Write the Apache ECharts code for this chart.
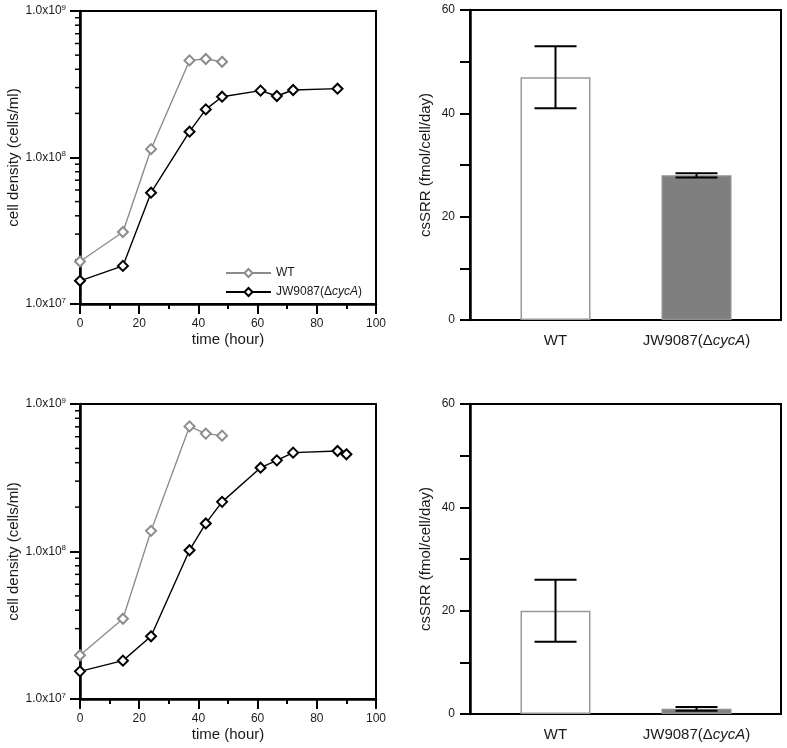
<!DOCTYPE html>
<html>
<head>
<meta charset="utf-8">
<script src="https://cdn.jsdelivr.net/npm/echarts@6/dist/echarts.min.js"></script>
<style>
  html, body { margin: 0; padding: 0; background: #fff; }
  #chart { width: 787px; height: 748px; }
</style>
</head>
<body>
<div id="chart"></div>
<script>
// ---- data: growth curves (top panel A, bottom panel B) ----
const wtTimeA = [0, 14.5, 24, 37, 42.5, 48];
const wtCellsA = [1.95e7, 3.1e7, 1.14e8, 4.6e8, 4.7e8, 4.5e8];
const jwTimeA = [0, 14.5, 24, 37, 42.5, 48, 61, 66.5, 72, 87];
const jwCellsA = [1.44e7, 1.82e7, 5.75e7, 1.5e8, 2.13e8, 2.6e8, 2.86e8, 2.63e8, 2.89e8, 2.95e8];

const wtTimeB = [0, 14.5, 24, 37, 42.5, 48];
const wtCellsB = [1.98e7, 3.5e7, 1.38e8, 7.05e8, 6.3e8, 6.1e8];
const jwTimeB = [0, 14.5, 24, 37, 42.5, 48, 61, 66.5, 72, 87, 90];
const jwCellsB = [1.54e7, 1.82e7, 2.66e7, 1.02e8, 1.55e8, 2.17e8, 3.7e8, 4.15e8, 4.68e8, 4.8e8, 4.56e8];

// ---- data: csSRR bars ----
const strains = ['WT', 'JW9087(ΔcycA)'];
const csSRRA = [47, 28];
const csSRRErrA = [6, 0.4];
const csSRRB = [20, 1.0];
const csSRRErrB = [6, 0.35];

// ---- axis ticks ----
const logMinorTicks = [2e7, 3e7, 4e7, 5e7, 6e7, 7e7, 8e7, 9e7, 2e8, 3e8, 4e8, 5e8, 6e8, 7e8, 8e8, 9e8];
const seriesNames = ['WT', 'JW9087(ΔcycA)'];

const FONT = '"Liberation Sans", Arial, Helvetica, sans-serif';
const TXT = '#1a1a1a';
const GRAY = '#8c8c8c';

const zip = (xs, ys) => xs.map((x, i) => [x, ys[i]]);
const italicName = s => s.replace('cycA', '{i|cycA}');

function lineGridAxes(gi) {
  const x = {
    type: 'value', gridIndex: gi, min: 0, max: 100, interval: 20,
    name: 'time (hour)', nameLocation: 'middle', nameGap: 36,
    nameTextStyle: { fontSize: 15, color: TXT, fontFamily: FONT, verticalAlign: 'middle' },
    axisLine: { lineStyle: { color: '#000', width: 2.5 } },
    axisTick: { inside: false, length: 10, lineStyle: { color: '#000', width: 2 } },
    minorTick: { show: true, splitNumber: 2, length: 5, lineStyle: { color: '#000', width: 2 } },
    axisLabel: { fontSize: 12, color: TXT, fontFamily: FONT, margin: 14 },
    splitLine: { show: false }
  };
  const y = {
    type: 'log', gridIndex: gi, min: 1e7, max: 1e9, logBase: 10,
    name: 'cell density (cells/ml)', nameLocation: 'middle', nameGap: 41,
    nameTextStyle: { fontSize: 15, color: TXT, fontFamily: FONT, verticalAlign: 'middle' },
    axisLine: { lineStyle: { color: '#000', width: 2.5 } },
    axisTick: { inside: false, length: 10, lineStyle: { color: '#000', width: 2 } },
    axisLabel: {
      fontSize: 12, color: TXT, fontFamily: FONT, margin: 14,
      formatter: v => '1.0x10{sup|' + Math.round(Math.log10(v)) + '}',
      rich: { sup: { fontSize: 8, color: TXT, fontFamily: FONT, verticalAlign: 'top', padding: [0, 0, 7, 0] } }
    },
    splitLine: { show: false }
  };
  return [x, y];
}

function barFrameAxes(gi) {
  const x = { type: 'value', gridIndex: gi, min: 0, max: 1, show: false };
  const y = {
    type: 'value', gridIndex: gi, min: 0, max: 60, interval: 10,
    name: 'csSRR (fmol/cell/day)', nameLocation: 'middle', nameGap: 44,
    nameTextStyle: { fontSize: 15, color: TXT, fontFamily: FONT, verticalAlign: 'middle' },
    axisLine: { show: true, lineStyle: { color: '#000', width: 2.5 } },
    axisTick: { show: true, inside: false, length: 10, lineStyle: { color: '#000', width: 2 } },
    axisLabel: { fontSize: 12, color: TXT, fontFamily: FONT, margin: 15,
      formatter: v => (v % 20 === 0 ? String(v) : '') },
    splitLine: { show: false }
  };
  return [x, y];
}

function barAxes(gi) {
  const x = {
    type: 'category', gridIndex: gi, data: strains,
    axisLine: { show: false }, axisTick: { show: false },
    axisLabel: { interval: 0, hideOverlap: false, fontSize: 15, color: TXT, fontFamily: FONT, margin: 13,
      formatter: italicName,
      rich: { i: { fontSize: 15, color: TXT, fontFamily: FONT, fontStyle: 'italic' } } }
  };
  const y = { type: 'value', gridIndex: gi, min: 0, max: 60, show: false };
  return [x, y];
}

const [x0, y0] = lineGridAxes(0);
const [x1, y1] = barFrameAxes(1);
const [x2, y2] = lineGridAxes(2);
const [x3, y3] = barFrameAxes(3);
const [x4, y4] = barAxes(4);
const [x5, y5] = barAxes(5);

function lineSeries(name, xs, ys, ai, color) {
  return {
    type: 'line', name, xAxisIndex: ai, yAxisIndex: ai, data: zip(xs, ys),
    symbol: 'diamond', symbolSize: 10, showSymbol: true,
    lineStyle: { color, width: 1.4 },
    itemStyle: { color: '#fff', borderColor: color, borderWidth: 2 },
    emphasis: { disabled: true }, animation: false
  };
}

function minorTickSeries(ai) {
  return {
    type: 'custom', xAxisIndex: ai, yAxisIndex: ai, silent: true, clip: false, animation: false,
    data: logMinorTicks.map(v => [0, v]),
    renderItem: (params, api) => {
      const p = api.coord([0, api.value(1)]);
      return { type: 'line', shape: { x1: p[0] - 5, y1: p[1], x2: p[0], y2: p[1] },
        style: { stroke: '#000', lineWidth: 1.5 } };
    }
  };
}

const barStyles = [
  { color: '#ffffff', borderColor: '#999999', borderWidth: 1.5 },
  { color: '#7f7f7f', borderColor: '#8f8f8f', borderWidth: 1.5 }
];

function barSeries(vals, ai) {
  return {
    type: 'bar', xAxisIndex: ai, yAxisIndex: ai, barWidth: 70, animation: false,
    data: vals.map((v, i) => ({ value: v, itemStyle: barStyles[i] })),
    emphasis: { disabled: true }
  };
}

function errSeries(vals, errs, ai) {
  return {
    type: 'custom', xAxisIndex: ai, yAxisIndex: ai, silent: true, clip: false, animation: false, z: 5,
    encode: { x: 0, y: [1, 2] },
    data: vals.map((v, i) => [i, v - errs[i], v + errs[i]]),
    renderItem: (params, api) => {
      const lo = api.coord([api.value(0), api.value(1)]);
      const hi = api.coord([api.value(0), api.value(2)]);
      const hw = 21;
      const st = { stroke: '#000', lineWidth: 2 };
      return { type: 'group', children: [
        { type: 'line', shape: { x1: hi[0], y1: hi[1], x2: lo[0], y2: lo[1] }, style: st },
        { type: 'line', shape: { x1: hi[0] - hw, y1: hi[1], x2: hi[0] + hw, y2: hi[1] }, style: st },
        { type: 'line', shape: { x1: lo[0] - hw, y1: lo[1], x2: lo[0] + hw, y2: lo[1] }, style: st }
      ] };
    }
  };
}

const frame = { show: true, borderColor: '#000', borderWidth: 2, backgroundColor: 'transparent' };

const option = {
  backgroundColor: '#fff',
  animation: false,
  textStyle: { fontFamily: FONT },
  legend: {
    data: seriesNames, orient: 'vertical', left: 220, top: 262,
    itemWidth: 45, itemHeight: 10, itemGap: 7, selectedMode: false,
    formatter: italicName,
    textStyle: { fontSize: 12, color: TXT, fontFamily: FONT,
      rich: { i: { fontSize: 12, color: TXT, fontFamily: FONT, fontStyle: 'italic' } } }
  },
  grid: [
    Object.assign({ left: 80, top: 11, width: 296, height: 293 }, frame),
    Object.assign({ left: 470, top: 10, width: 311, height: 310 }, frame),
    Object.assign({ left: 80, top: 404, width: 296, height: 295 }, frame),
    Object.assign({ left: 470, top: 404, width: 311, height: 310 }, frame),
    { left: 485, top: 10, width: 282, height: 310, show: false },
    { left: 485, top: 404, width: 282, height: 310, show: false }
  ],
  xAxis: [x0, x1, x2, x3, x4, x5],
  yAxis: [y0, y1, y2, y3, y4, y5],
  series: [
    lineSeries(seriesNames[0], wtTimeA, wtCellsA, 0, GRAY),
    lineSeries(seriesNames[1], jwTimeA, jwCellsA, 0, '#000'),
    minorTickSeries(0),
    lineSeries(seriesNames[0], wtTimeB, wtCellsB, 2, GRAY),
    lineSeries(seriesNames[1], jwTimeB, jwCellsB, 2, '#000'),
    minorTickSeries(2),
    barSeries(csSRRA, 4),
    errSeries(csSRRA, csSRRErrA, 4),
    barSeries(csSRRB, 5),
    errSeries(csSRRB, csSRRErrB, 5)
  ]
};

const chart = echarts.init(document.getElementById('chart'), null, { renderer: 'canvas' });
chart.setOption(option);
</script>
</body>
</html>
